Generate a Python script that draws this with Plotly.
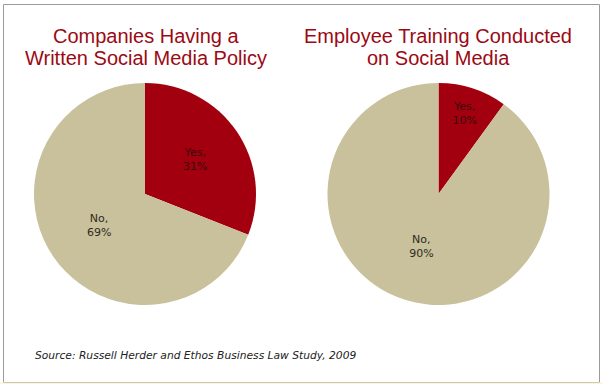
import plotly.graph_objects as go

W, H = 603, 384

labels = ["Yes", "No"]
policy_values = [31, 69]
training_values = [10, 90]
title_lines = [["Companies Having a", "Written Social Media Policy"],
               ["Employee Training Conducted", "on Social Media"]]
source_text = "Source: Russell Herder and Ethos Business Law Study, 2009"

colors = ["#A3000F", "#C8C19B"]
text_colors = ["#3a0a0a", "#2e2b22"]

def px_x(v):
    return v / W

def px_y(v):
    return 1 - v / H

cy = 194
r = 111
fig = go.Figure()
for cx, vals in [(145, policy_values), (438.5, training_values)]:
    fig.add_trace(go.Pie(
        labels=labels, values=vals, sort=False, direction="clockwise", rotation=0,
        marker=dict(colors=colors, line=dict(width=0)),
        texttemplate="%{label},<br>%{value}%", textposition="inside",
        insidetextorientation="horizontal",
        textfont=dict(family="DejaVu Sans", size=11, color=text_colors),
        hoverinfo="label+percent", showlegend=False,
        domain=dict(x=[px_x(cx - r), px_x(cx + r)], y=[px_y(cy + r), px_y(cy - r)]),
    ))

for cx, lines in [(146, title_lines[0]), (438, title_lines[1])]:
    for ly, line in zip([36, 58], lines):
        fig.add_annotation(x=px_x(cx), y=px_y(ly), xref="paper", yref="paper",
                           text=line, showarrow=False, xanchor="center", yanchor="middle",
                           font=dict(family="Liberation Sans, Arial", size=20, color="#9B0A14"))

fig.add_annotation(x=px_x(33), y=px_y(355), xref="paper", yref="paper",
                   text="<i>" + source_text + "</i>", showarrow=False,
                   xanchor="left", yanchor="middle",
                   font=dict(family="DejaVu Sans", size=10.7, color="#222222"))

fig.add_shape(type="rect", xref="paper", yref="paper",
              x0=px_x(3.5), x1=px_x(599.5), y0=px_y(382.5), y1=px_y(4.5),
              line=dict(color="#9a9a9a", width=1), fillcolor="rgba(0,0,0,0)")
fig.add_shape(type="rect", xref="paper", yref="paper",
              x0=0, x1=1, y0=0, y1=px_y(382.5),
              line=dict(width=0), fillcolor="#FBF5D2")

fig.update_layout(width=W, height=H, margin=dict(l=0, r=0, t=0, b=0),
                  paper_bgcolor="white", plot_bgcolor="white")
fig.write_html("out.html", config={"displayModeBar": False},
               post_script="document.body.style.margin='0';document.body.style.overflow='hidden';")
